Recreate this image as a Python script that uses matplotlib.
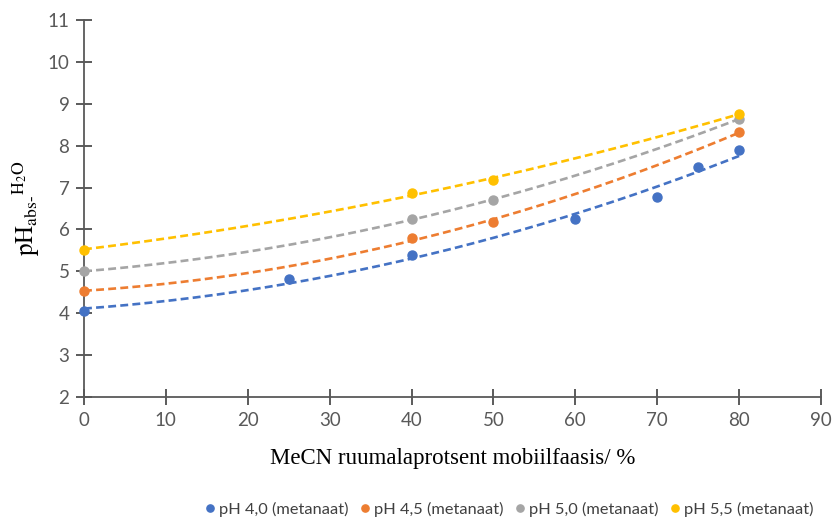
import numpy as np
import matplotlib.pyplot as plt

# MeCN sisaldus (%) ja mõõdetud pH väärtused
x_40 = [0, 25, 40, 60, 70, 75, 80]
ph_40 = [4.05, 4.82, 5.39, 6.25, 6.77, 7.49, 7.89]

x_45 = [0, 40, 50, 80]
ph_45 = [4.53, 5.79, 6.18, 8.32]

x_50 = [0, 40, 50, 80]
ph_50 = [5.0, 6.25, 6.70, 8.64]

x_55 = [0, 40, 50, 80]
ph_55 = [5.52, 6.86, 7.18, 8.76]

labels = ['pH 4,0 (metanaat)', 'pH 4,5 (metanaat)', 'pH 5,0 (metanaat)', 'pH 5,5 (metanaat)']
colors = ['#4472C4', '#ED7D31', '#A5A5A5', '#FFC000']

plt.rcParams['mathtext.fontset'] = 'stix'

fig = plt.figure(figsize=(8.34, 5.25), dpi=100)
ax = fig.add_axes([0.1007, 0.2438, 0.8837, 0.7181])

series = [(x_40, ph_40), (x_45, ph_45), (x_50, ph_50), (x_55, ph_55)]
for (x, y), lab, c in zip(series, labels, colors):
    x = np.array(x, dtype=float)
    y = np.array(y, dtype=float)
    # 2. astme polünoomne trendijoon
    p = np.polyfit(x, y, 2)
    xx = np.linspace(x.min(), x.max(), 200)
    ax.plot(xx, np.polyval(p, xx), color=c, lw=1.9, dashes=(3.0, 1.6),
            solid_capstyle='butt', zorder=2)
    ax.plot(x, y, 'o', color=c, ms=6.5, label=lab, clip_on=False, zorder=3)

ax.set_xlim(0, 90)
ax.set_ylim(2, 11)
ax.set_xticks(range(0, 91, 10))
ax.set_yticks(range(2, 12))

for s in ['top', 'right']:
    ax.spines[s].set_visible(False)
for s in ['left', 'bottom']:
    ax.spines[s].set_color('#595959')
    ax.spines[s].set_linewidth(1.3)

ax.tick_params(direction='inout', length=11, width=1.2, color='#404040',
               labelsize=13.5, labelcolor='#595959', pad=5)
for t in ax.get_xticklabels() + ax.get_yticklabels():
    t.set_fontfamily('Lato')

ax.set_xlabel('MeCN ruumalaprotsent mobiilfaasis/ %', fontfamily='Liberation Serif',
              fontsize=16.5, labelpad=14)
ax.set_ylabel(r'$\mathrm{pH_{abs\text{-}}{}^{H_2O}}$', fontsize=18, labelpad=4)

leg = fig.legend(loc='lower center', bbox_to_anchor=(0.609, -0.012), ncol=4, frameon=False,
                 handletextpad=0.05, columnspacing=0.5, handlelength=1.0,
                 markerscale=0.8, prop={'family': 'Lato', 'size': 11.8})
for t in leg.get_texts():
    t.set_color('#404040')

fig.savefig('out.png', dpi=100)
